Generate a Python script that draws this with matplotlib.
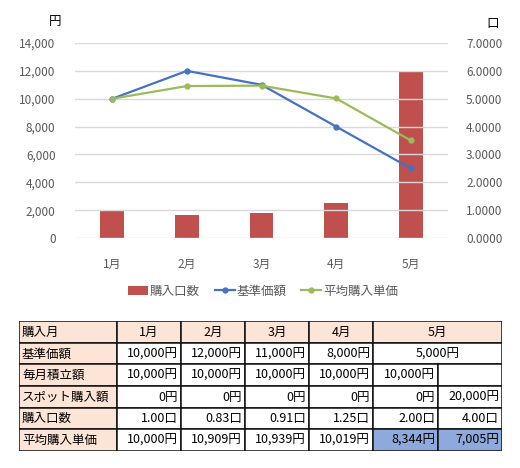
import numpy as np
import matplotlib.pyplot as plt
from matplotlib.patches import Rectangle
from matplotlib.ticker import FuncFormatter

plt.rcParams['font.family'] = ['Noto Sans CJK JP', 'DejaVu Sans']

# data
months = ['1月', '2月', '3月', '4月', '5月']
units = [1.00, 0.83, 0.91, 1.25, 6.00]          # 購入口数 (口)
base_price = [10000, 12000, 11000, 8000, 5000]   # 基準価額 (円)
avg_price = [10000, 10909, 10939, 10019, 7005]   # 平均購入単価 (円)

# table contents
row_heads = ['購入月', '基準価額', '毎月積立額', 'スポット購入額', '購入口数', '平均購入単価']
tbl_base = ['10,000円', '12,000円', '11,000円', '8,000円', '5,000円']
tbl_monthly = ['10,000円', '10,000円', '10,000円', '10,000円', '10,000円', '']
tbl_spot = ['0円', '0円', '0円', '0円', '0円', '20,000円']
tbl_units = ['1.00口', '0.83口', '0.91口', '1.25口', '2.00口', '4.00口']
tbl_avg = ['10,000円', '10,909円', '10,939円', '10,019円', '8,344円', '7,005円']

W, H = 520, 468
fig = plt.figure(figsize=(W / 100, H / 100), dpi=100)

# ---- chart ----
ax = fig.add_axes([75 / W, 1 - 238 / H, (448 - 75) / W, (238 - 43) / H])
ax2 = ax.twinx()
x = np.arange(len(months))

bars = ax2.bar(x, units, width=0.32, color='#C0504D', label='購入口数', zorder=2)
l1, = ax.plot(x, base_price, color='#4472C4', lw=1.6, marker='o', ms=3.5, label='基準価額', zorder=3)
l2, = ax.plot(x, avg_price, color='#9BBB59', lw=1.6, marker='o', ms=3.5, label='平均購入単価', zorder=3)
ax.set_zorder(ax2.get_zorder() + 1)
ax.patch.set_visible(False)

ax.set_xlim(-0.5, 4.5)
ax.set_ylim(0, 14000)
ax.set_yticks(np.arange(0, 14001, 2000))
ax.yaxis.set_major_formatter(FuncFormatter(lambda v, p: f'{int(v):,}'))
ax2.set_ylim(0, 7)
ax2.set_yticks(np.arange(0, 8, 1))
ax2.yaxis.set_major_formatter(FuncFormatter(lambda v, p: f'{v:.4f}'))
ax.set_xticks(x)
ax.set_xticklabels(months)

ax.grid(axis='y', color='#D9D9D9', lw=1)
ax.set_axisbelow(True)
for a in (ax, ax2):
    for s in a.spines.values():
        s.set_visible(False)
ax.tick_params(axis='both', length=0, labelsize=8.5, colors='#595959')
ax.tick_params(axis='y', pad=14)
ax.tick_params(axis='x', pad=14)
ax2.tick_params(axis='y', length=0, labelsize=8.5, colors='#595959', pad=13)

fig.text(55 / W, 1 - 21 / H, '円', ha='center', va='center', fontsize=9)
fig.text(493 / W, 1 - 24 / H, '口', ha='center', va='center', fontsize=9)

fig.legend(handles=[bars, l1, l2], loc='center', bbox_to_anchor=(263 / W, 1 - 291 / H),
           ncol=3, frameon=False, fontsize=9, handlelength=1.6, handletextpad=0.15,
           columnspacing=1.2, labelcolor='#595959')

# ---- table ----
col_w = [98, 64, 64, 64, 64, 65, 64]
col_x = np.concatenate([[0], np.cumsum(col_w)])
n_rows = len(row_heads)
tx = fig.add_axes([19 / W, 1 - 451 / H, col_x[-1] / W, 130 / H])
tx.set_xlim(0, col_x[-1])
tx.set_ylim(n_rows, 0)
tx.axis('off')

peach = '#FCE4D6'
blue = '#8EA9DB'
fs = 9


def cell(c0, c1, r, text='', fill='white', ha='right'):
    x0, x1 = col_x[c0], col_x[c1]
    tx.add_patch(Rectangle((x0, r), x1 - x0, 1, facecolor=fill, edgecolor='#111111', lw=1.1))
    if ha == 'right':
        tx.text(x1 - 3, r + 0.52, text, ha='right', va='center', fontsize=fs)
    elif ha == 'left':
        tx.text(x0 + 3, r + 0.52, text, ha='left', va='center', fontsize=fs)
    else:
        tx.text((x0 + x1) / 2, r + 0.52, text, ha='center', va='center', fontsize=fs)


for r, h in enumerate(row_heads):
    cell(0, 1, r, h, fill=peach, ha='left')

# header row
for i, m in enumerate(months[:4]):
    cell(i + 1, i + 2, 0, m, fill=peach, ha='center')
cell(5, 7, 0, months[4], fill=peach, ha='center')

# 基準価額
for i, t in enumerate(tbl_base[:4]):
    cell(i + 1, i + 2, 1, t)
cell(5, 7, 1, tbl_base[4], ha='center')

for r, vals in [(2, tbl_monthly), (3, tbl_spot), (4, tbl_units), (5, tbl_avg)]:
    for i, t in enumerate(vals):
        fill = blue if (r == 5 and i >= 4) else 'white'
        cell(i + 1, i + 2, r, t, fill=fill)

fig.savefig('out.png', dpi=100)
